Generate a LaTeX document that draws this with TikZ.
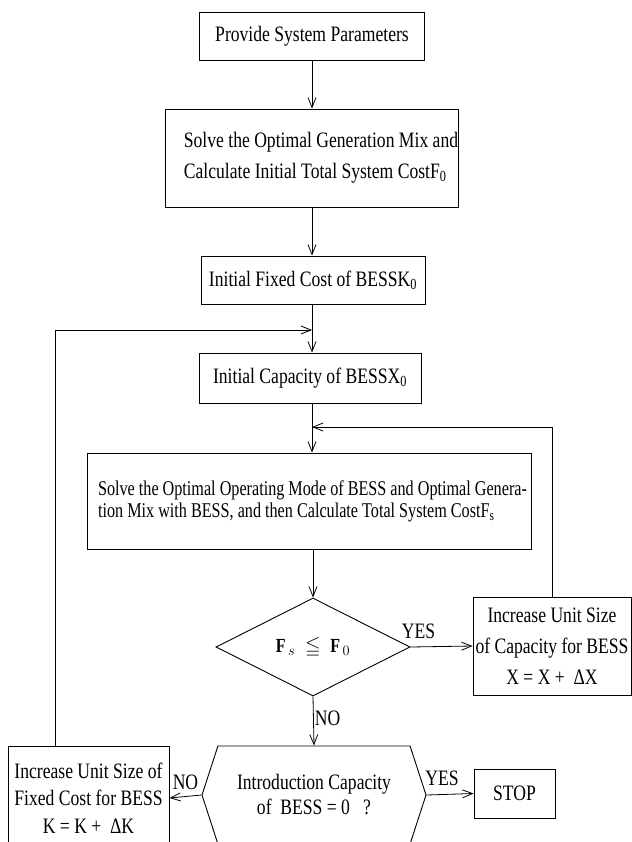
\documentclass[tikz,border=0pt]{standalone}
\usepackage{fontspec}
\usepackage{amssymb}
\setmainfont{Liberation Serif}[FakeStretch=0.80]
\usetikzlibrary{arrows.meta,shapes.geometric,shapes.symbols}
\begin{document}
\begin{tikzpicture}[x=1pt,y=-1pt,
  box/.style={draw, line width=0.9pt, inner sep=0pt, align=center, font=\fontsize{22}{31}\selectfont},
  arr/.style={-{Straight Barb[length=10pt,width=8pt]}, line width=0.8pt},
  lbl/.style={font=\fontsize{22}{24}\selectfont, inner sep=2pt}]
\useasboundingbox[fill=white] (0,0) rectangle (631,842);

\node[box, minimum width=225pt, minimum height=48pt] (b1) at (312,36) {Provide System Parameters};
\node[box, minimum width=290pt, minimum height=98pt, align=left] (b2) at (312,158)
  {\hspace*{18pt}Solve the Optimal Generation Mix and\\\hspace*{18pt}Calculate Initial Total System CostF\textsubscript{0}};
\node[box, minimum width=224pt, minimum height=48pt] (b3) at (313,280) {Initial Fixed Cost of BESSK\textsubscript{0}};
\node[box, minimum width=222pt, minimum height=50pt] (b4) at (310,378) {Initial Capacity of BESSX\textsubscript{0}};
\node[box, minimum width=444pt, minimum height=96pt, align=left, font=\fontsize{21}{22}\selectfont] (b5) at (309,501)
  {\addfontfeatures{FakeStretch=0.77}\hspace*{7pt}Solve the Optimal Operating Mode of BESS and Optimal Genera-\\
   \addfontfeatures{FakeStretch=0.77}\hspace*{7pt}tion Mix with BESS, and then Calculate Total System CostF\textsubscript{s}};
\node[draw, diamond, line width=0.9pt, minimum width=194pt, minimum height=98pt, inner sep=0pt] (d) at (313,647)
  {\fontsize{20}{24}\selectfont$\mathbf{F}_{s}\ \leqq\ \mathbf{F}_{0}$};
\node[box, minimum width=158pt, minimum height=98pt] (r) at (552,646)
  {Increase Unit Size\\of Capacity for BESS\\X = X + \ ΔX};
\node[draw, signal, signal to=west and east, signal pointer angle=144, line width=0.9pt,
  minimum width=224pt, minimum height=98pt, inner sep=0pt, align=center,
  font=\fontsize{22}{25}\selectfont] (h) at (314,795)
  {Introduction Capacity\\of \ BESS = 0 \ \ ?};
\node[box, minimum width=81pt, minimum height=49pt] (s) at (514.5,793.5) {STOP};
\node[box, minimum width=161pt, minimum height=104pt, font=\fontsize{22}{27.5}\selectfont] (L) at (88.5,798)
  {Increase Unit Size of\\Fixed Cost for BESS\\K = K + \ ΔK};

\coordinate (j1) at (312,330);
\coordinate (j2) at (312,427);

\draw[arr] (b1.south) -- (b1.south |- b2.north);
\draw[arr] (b2.south) -- (b2.south |- b3.north);
\draw[arr] (b3.south -| j1) -- (b4.north -| j1);
\draw[arr] ([xshift=-33.5pt]L.north) |- (j1);
\draw[arr] (b4.south -| j2) -- (b5.north -| j2);
\draw[arr] (r.north) |- (j2);
\draw[arr] (b5.south -| d.north) -- (d.north);
\draw[arr] (d.east) -- node[lbl, above=6pt, pos=0.13] {YES} (r.west);
\draw[arr] (d.south) -- node[lbl, right, pos=0.45, inner sep=1pt] {NO} (h.north);
\draw[arr] (h.east) -- node[lbl, above=6pt, pos=0.33] {YES} (s.west);
\draw[arr] (h.west) -- node[lbl, above=4pt, pos=0.5] {NO} (L.east);
\end{tikzpicture}
\end{document}
